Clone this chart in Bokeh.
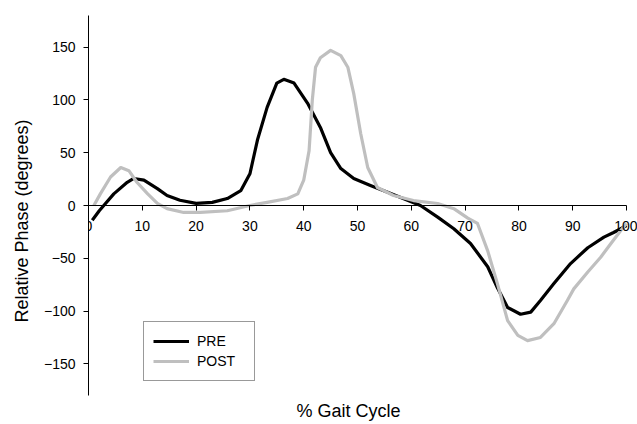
from bokeh.plotting import figure
from bokeh.models import FixedTicker, Range1d, Legend, LegendItem, Title
from bokeh.embed import file_html
from bokeh.resources import INLINE

# PRE curve (black)
pre_x = [0.7, 2, 3, 4.7, 7.2, 8.4, 10.3, 12.8, 14.6, 17, 20, 23, 25.8, 28.3, 30, 31.4,
         33.2, 35, 36.3, 38.2, 40.7, 43.1, 45, 46.9, 49.3, 52.4, 55.6, 58.6, 61.7, 64.9,
         67.9, 71, 74.2, 76, 77.9, 80.3, 82.2, 84, 86.5, 89.6, 92.8, 95.8, 97.6, 100]
pre_y = [-14, -5, 1, 11, 22, 25.6, 24, 16, 9.5, 5, 2, 3, 6.6, 14, 30, 62,
         93, 116, 119.5, 116, 97, 74, 50, 35, 25.6, 19, 12.6, 6.3, 0, -11,
         -22, -36, -58, -78, -96.6, -103, -101, -90, -74, -55, -40, -30, -25.6, -19]

# POST curve (grey)
post_x = [1, 2.2, 4.1, 6, 7.5, 9, 11, 12.8, 14.6, 17.7, 20.8, 25.8, 30, 33.2, 37, 38.9,
          40, 41, 41.6, 42.2, 43.1, 45, 46.9, 48.2, 49.3, 50.6, 51.9, 53.7, 56.7, 60.4,
          64.9, 67.9, 70.5, 72.3, 74.2, 76, 77.9, 79.8, 81.6, 84, 86.5, 89, 90.2, 92.8,
          95.2, 97.1, 98.9, 100]
post_y = [0, 11, 27, 36, 33, 22, 11, 2, -3, -6.6, -6.6, -5, 0, 3, 6.6, 11,
          24, 52, 100, 131, 140, 147, 142, 131, 106, 68, 36, 17, 9.5, 4.7,
          1.9, -3, -12, -17, -43, -74, -109, -123, -128, -125, -112, -90, -79, -63,
          -49, -36, -24, -17]

x_ticks = [0, 10, 20, 30, 40, 50, 60, 70, 80, 90, 100]
y_ticks = [-150, -100, -50, 0, 50, 100, 150]
series_names = ["PRE", "POST"]
x_title = "% Gait Cycle"
y_title = "Relative Phase (degrees)"

FONT = "Liberation Sans"

p = figure(width=637, height=424, output_backend="svg", toolbar_location=None,
           x_range=Range1d(0, 102.04), y_range=Range1d(-180, 180),
           min_border_left=88, min_border_right=0, min_border_top=15, min_border_bottom=29)
p.outline_line_color = None
p.grid.visible = False
p.background_fill_color = "white"
p.border_fill_color = "white"

# x axis crossing at y = 0
xa = p.xaxis[0]
xa.fixed_location = 0
xa.bounds = (0, 100)
xa.ticker = FixedTicker(ticks=x_ticks)
xa.axis_line_color = "black"
xa.major_tick_line_color = "black"
xa.major_tick_out = 5
xa.major_tick_in = 0
xa.minor_tick_line_color = None
xa.major_label_standoff = 10
xa.major_label_text_font = FONT
xa.major_label_text_font_size = "14px"
xa.major_label_text_color = "black"

ya = p.yaxis[0]
ya.ticker = FixedTicker(ticks=y_ticks)
ya.axis_line_color = "black"
ya.major_tick_line_color = "black"
ya.major_tick_out = 5
ya.major_tick_in = 0
ya.minor_tick_line_color = None
ya.major_label_standoff = 8
ya.major_label_text_font = FONT
ya.major_label_text_font_size = "14px"
ya.major_label_text_color = "black"

# axis titles
p.add_layout(Title(text=y_title, align="left", offset=73, standoff=18,
                   text_font=FONT, text_font_size="18px", text_font_style="normal",
                   text_color="black"), "left")
p.add_layout(Title(text=x_title, align="left", offset=208, standoff=6,
                   text_font=FONT, text_font_size="18px", text_font_style="normal",
                   text_color="black"), "below")

r_pre = p.line(pre_x, pre_y, line_color="black", line_width=3.2, line_join="round")
r_post = p.line(post_x, post_y, line_color="#BFBFBF", line_width=3.2, line_join="round")

legend = Legend(items=[LegendItem(label=series_names[0], renderers=[r_pre]),
                       LegendItem(label=series_names[1], renderers=[r_post])],
                location=(55, 14), padding=9, spacing=0,
                glyph_width=36, glyph_height=20, label_height=20, label_width=48,
                label_standoff=8, label_text_font=FONT, label_text_font_size="14px",
                label_text_color="black", border_line_color="#333333",
                border_line_width=1, background_fill_alpha=1, margin=0)
p.add_layout(legend, "center")

open("out.html", "w").write(file_html(p, INLINE))
